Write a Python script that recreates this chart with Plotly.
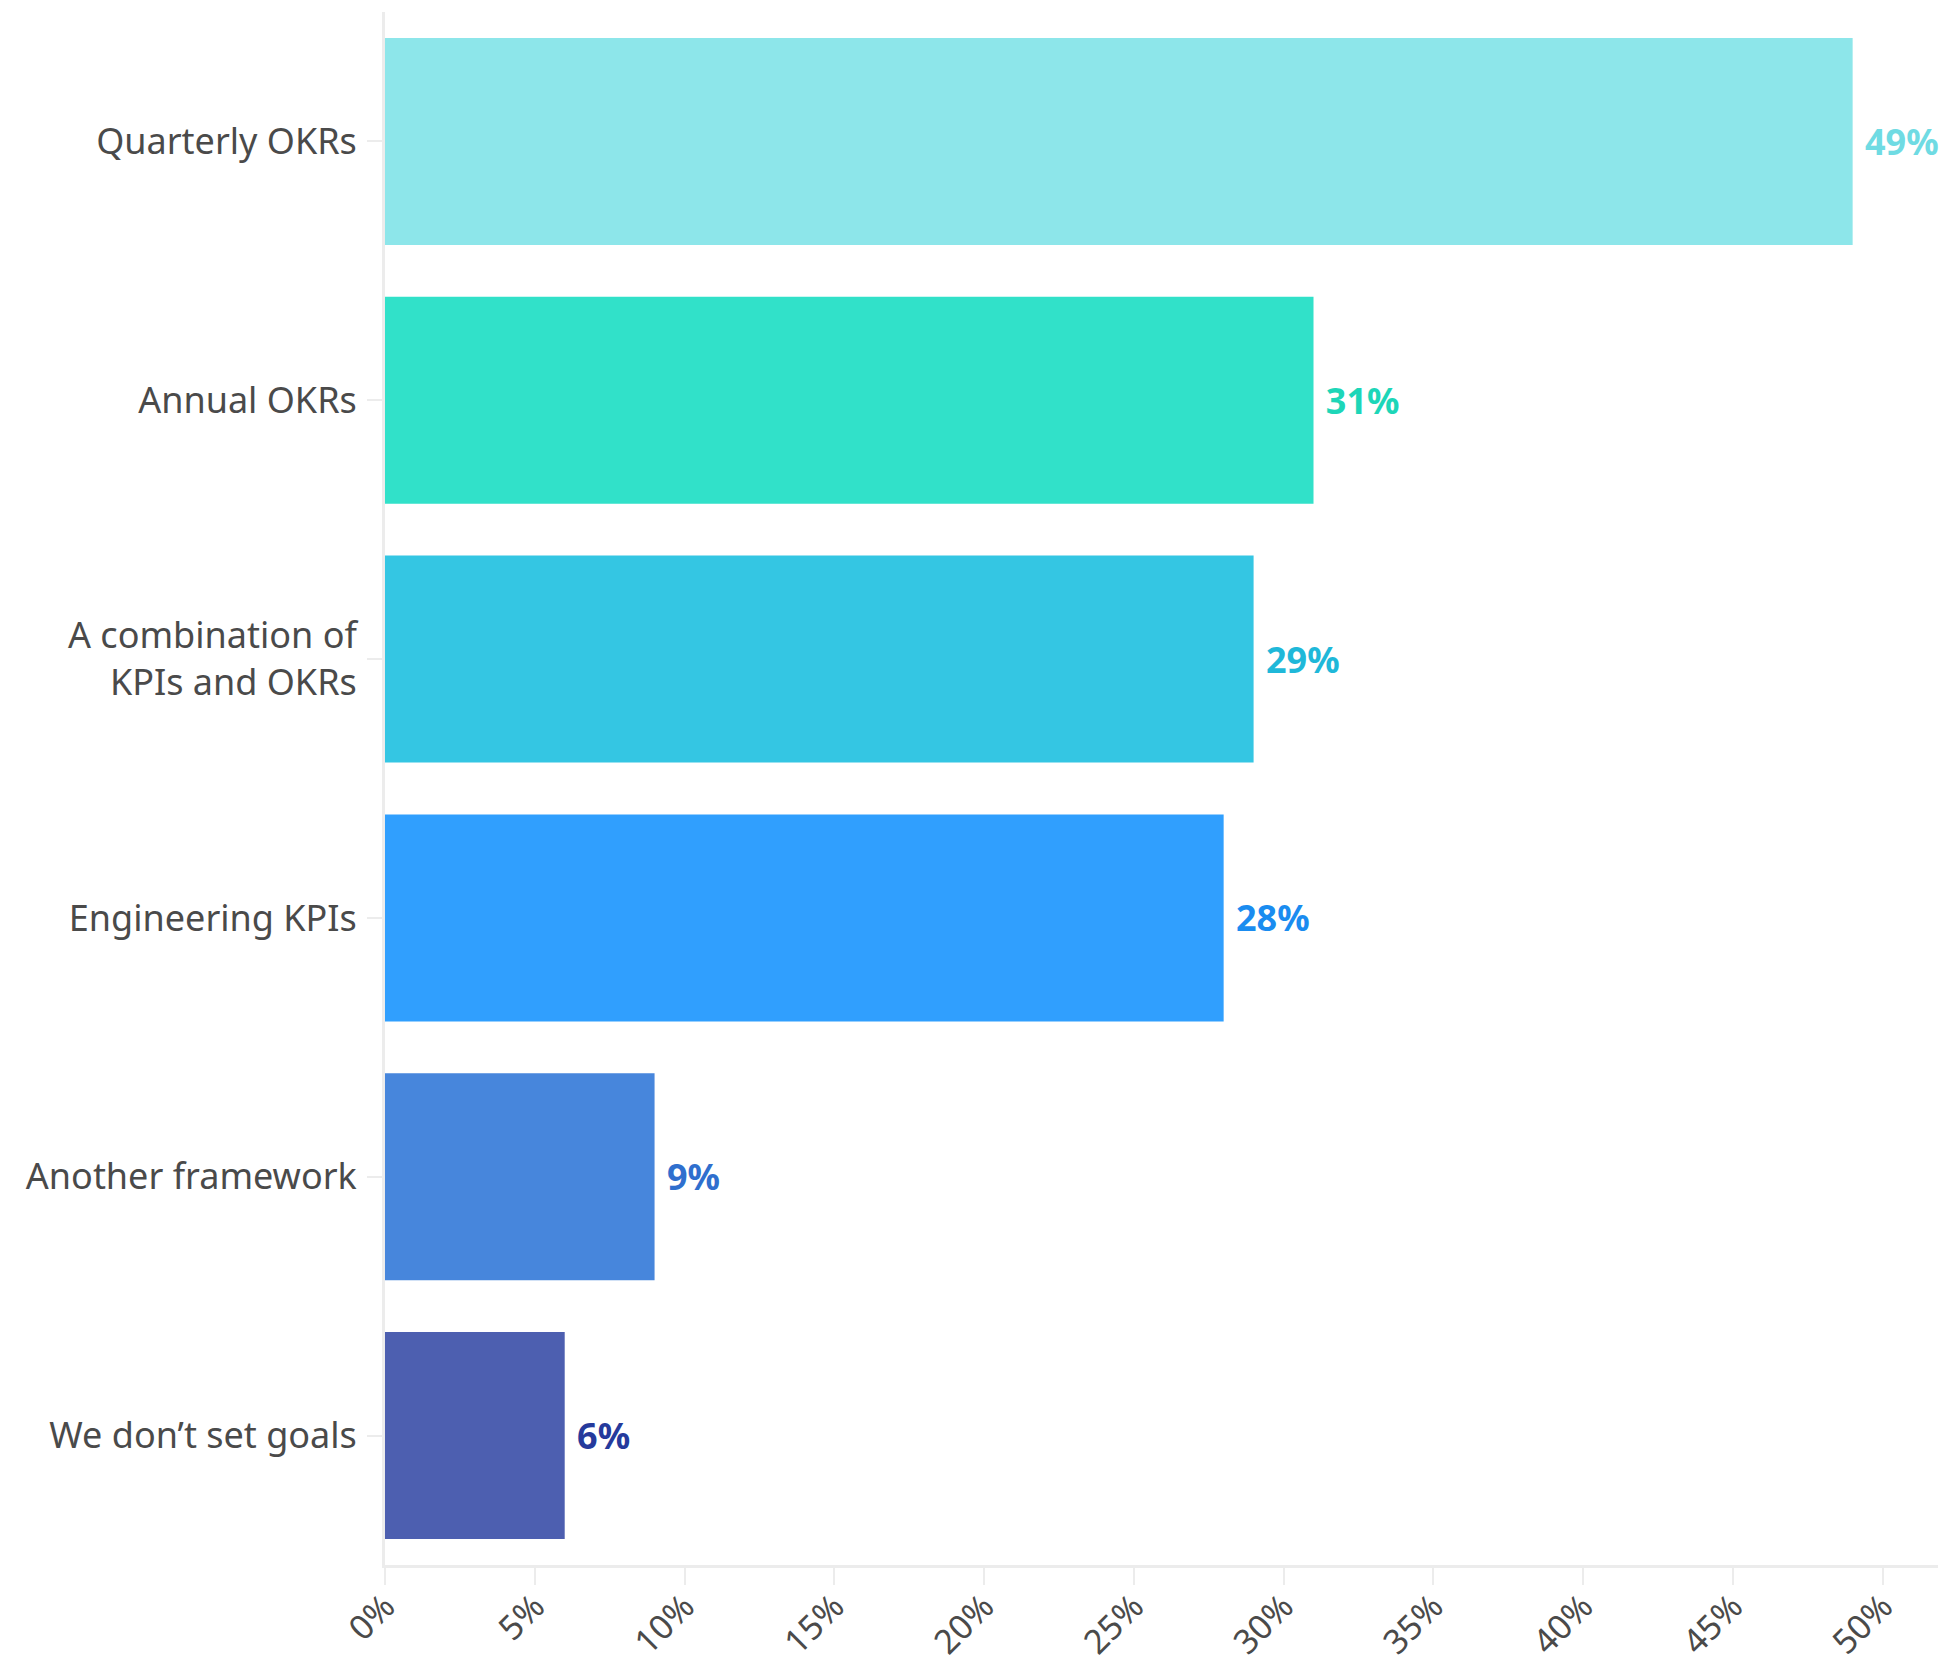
import plotly.graph_objects as go

categories = ["Quarterly OKRs", "Annual OKRs", "A combination of<br>KPIs and OKRs",
              "Engineering KPIs", "Another framework", "We don’t set goals"]
values = [49, 31, 29, 28, 9, 6]
bar_colors = ["#8de6ea", "#31e1c9", "#34c6e3", "#309ffe", "#4786dc", "#4d5fb0"]
label_colors = ["#6fdbe3", "#1dd6b8", "#1fb8d9", "#1a8cf0", "#2f6fce", "#253a9c"]
x_ticks = [0, 5, 10, 15, 20, 25, 30, 35, 40, 45, 50]
x_ticklabels = [f"{t}%" for t in x_ticks]

fig = go.Figure(go.Bar(
    x=values,
    y=categories,
    orientation="h",
    marker=dict(color=bar_colors, line=dict(width=0)),
    width=0.8,
    text=[f"\u00a0{v}%" for v in values],
    textposition="outside",
    textfont=dict(family="Noto Sans", size=36, color=label_colors, weight="bold"),
    constraintext="none",
    cliponaxis=False,
))

fig.update_layout(
    width=1942, height=1664,
    margin=dict(l=385, r=4, t=12, b=99),
    plot_bgcolor="white", paper_bgcolor="white",
    showlegend=False,
    font=dict(family="Noto Sans", color="#4a4a4a"),
    xaxis=dict(
        range=[0, 51.85],
        tickvals=x_ticks, ticktext=x_ticklabels,
        tickangle=-45,
        tickfont=dict(size=34, color="#4a4a4a"),
        showgrid=False, zeroline=False,
        showline=True, linecolor="#ececec", linewidth=3,
        ticks="outside", ticklen=17, tickwidth=2, tickcolor="#ececec",
        ticklabelstandoff=-12,
        automargin=False,
    ),
    yaxis=dict(
        type="category",
        range=[5.5, -0.5],
        tickfont=dict(size=36, color="#4a4a4a"),
        showgrid=False, zeroline=False,
        showline=True, linecolor="#ececec", linewidth=3,
        ticks="outside", ticklen=15, tickwidth=2, tickcolor="#ececec",
        ticklabelstandoff=3,
        automargin=False,
    ),
)

fig.write_html("out.html")
